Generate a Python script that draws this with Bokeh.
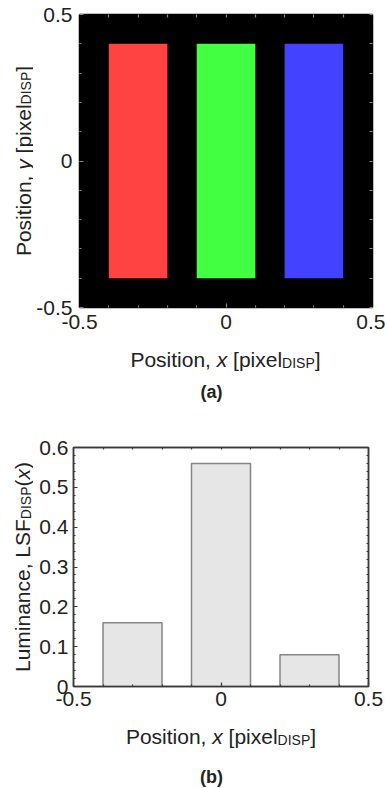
import math
from bokeh.plotting import figure
from bokeh.models import LinearAxis, FixedTicker, Range1d
from bokeh.core.properties import value
from bokeh.layouts import column, row
from bokeh.embed import file_html
from bokeh.resources import INLINE

# ---------------- data ----------------
# (a) display pixel layout: R, G, B sub-pixels
subpixel_names = ["R", "G", "B"]
subpixel_left = [-0.4, -0.1, 0.2]
subpixel_right = [-0.2, 0.1, 0.4]
subpixel_bottom = [-0.4, -0.4, -0.4]
subpixel_top = [0.4, 0.4, 0.4]

# (b) line spread function of the display pixel
lsf_x = [-0.3, 0.0, 0.3]
lsf_width = [0.2, 0.2, 0.2]
lsf_value = [0.16, 0.56, 0.08]

# ticks
pos_major = [-0.5, 0, 0.5]
pos_major_labels = ["-0.5", "0", "0.5"]
pos_minor = [-0.4, -0.3, -0.2, -0.1, 0.1, 0.2, 0.3, 0.4]
lum_major = [0, 0.1, 0.2, 0.3, 0.4, 0.5, 0.6]
lum_major_labels = ["0", "0.1", "0.2", "0.3", "0.4", "0.5", "0.6"]
lum_minor = [0.02, 0.04, 0.06, 0.08, 0.12, 0.14, 0.16, 0.18, 0.22, 0.24, 0.26, 0.28,
             0.32, 0.34, 0.36, 0.38, 0.42, 0.44, 0.46, 0.48, 0.52, 0.54, 0.56, 0.58]

# axis titles: (text, size, style, subscript drop)
title_x = [("Position, ", 21, "normal", 0), ("x ", 21, "italic", 0), ("[pixel", 21, "normal", 0),
           ("DISP", 14, "normal", 3), ("]", 21, "normal", 0)]
title_ya = [("Position, ", 21, "normal", 0), ("y ", 21, "italic", 0), ("[pixel", 21, "normal", 0),
            ("DISP", 14, "normal", 3), ("]", 21, "normal", 0)]
title_yb = [("Luminance, ", 21, "normal", 0), ("LSF", 21, "normal", 0), ("DISP", 14, "normal", 3),
            ("(", 21, "normal", 0), ("x", 21, "italic", 0), (")", 21, "normal", 0)]

# ---------------- styles ----------------
SUBPIXEL_COLORS = ["#ff4242", "#42ff42", "#4242ff"]
FONT = "Liberation Sans"
TXT = "#222222"
W = {' ': 278, ',': 278, '(': 333, ')': 333, '[': 278, ']': 278, 'P': 667, 'o': 556,
     's': 500, 'i': 222, 't': 278, 'n': 556, 'x': 500, 'y': 500, 'p': 556, 'e': 556,
     'l': 222, 'D': 722, 'I': 278, 'S': 667, 'L': 556, 'u': 556, 'm': 833, 'a': 556,
     'c': 500, 'F': 611}


def text_width(s, size):
    return sum(W.get(c, 556) for c in s) * size / 1000.0


def total_width(pieces):
    return sum(text_width(t, s) for t, s, _, _ in pieces)


def text_fig(w, h, xr, yr, left=0, right=0, top=0, bottom=0):
    """blank figure for titles; data coordinates are pixels"""
    f = figure(width=w, height=h, x_range=Range1d(*xr), y_range=Range1d(*yr), title=None,
               x_axis_type=None, y_axis_type=None, output_backend="svg",
               toolbar_location=None, min_border=0, min_border_left=left,
               min_border_right=right, min_border_top=top, min_border_bottom=bottom)
    f.grid.visible = False
    f.outline_line_color = None
    f.background_fill_color = "white"
    f.border_fill_color = "white"
    return f


def put(f, x, y, txt, size, style="normal", angle=0.0, align="left", baseline="alphabetic"):
    f.text(x=[x], y=[y], text=[txt], angle=angle, text_font=value(FONT),
           text_font_size=value(f"{size}px"), text_font_style=style, text_color=TXT,
           text_align=align, text_baseline=baseline)


def rich(f, pieces, x0, y0, vertical=False):
    pos = 0.0
    for txt, size, style, drop in pieces:
        if vertical:
            put(f, x0 + drop, y0 + pos, txt.strip(), size, style, math.pi / 2)
        else:
            put(f, x0 + pos, y0 - drop, txt.strip(), size, style)
        pos += text_width(txt, size)


def style_axes(p, xmaj, xlab, xmin, ymaj, ylab, ymin, tick_color, line_color, standoff):
    bottom = p.xaxis[0]
    left = p.yaxis[0]
    bottom.ticker = FixedTicker(ticks=xmaj, minor_ticks=xmin)
    bottom.major_label_overrides = dict(zip(xmaj, xlab))
    left.ticker = FixedTicker(ticks=ymaj, minor_ticks=ymin)
    left.major_label_overrides = dict(zip(ymaj, ylab))
    top = LinearAxis(ticker=FixedTicker(ticks=[], minor_ticks=xmaj + xmin))
    right = LinearAxis(ticker=FixedTicker(ticks=[], minor_ticks=ymaj + ymin))
    p.add_layout(top, "above")
    p.add_layout(right, "right")
    for ax in (bottom, left, top, right):
        ax.axis_line_color = line_color
        ax.axis_line_width = 1.5
        ax.major_tick_line_color = tick_color
        ax.minor_tick_line_color = tick_color
        ax.major_tick_line_width = 1.2
        ax.minor_tick_line_width = 1.2
        ax.major_tick_in = 4
        ax.major_tick_out = 0
        ax.minor_tick_in = 2
        ax.minor_tick_out = 0
        ax.major_label_text_font = FONT
        ax.major_label_text_color = TXT
        ax.major_label_text_font_size = "21px"
        ax.major_label_standoff = standoff
    return bottom, left, top, right


# ================= panel (a): page y 0..410, frame x 78..372, y 14..307 =================
YL = 33
pa = figure(width=385 - YL, height=338, output_backend="svg", toolbar_location=None,
            x_range=Range1d(-0.5, 0.5), y_range=Range1d(-0.5, 0.5),
            min_border_left=78 - YL, min_border_right=13, min_border_top=14,
            min_border_bottom=31)
pa.background_fill_color = "black"
pa.border_fill_color = "white"
pa.outline_line_color = "black"
pa.grid.visible = False
pa.quad(left=subpixel_left, right=subpixel_right, bottom=subpixel_bottom, top=subpixel_top,
        fill_color=SUBPIXEL_COLORS, line_color=None)
_, _, ta, ra = style_axes(pa, pos_major, pos_major_labels, pos_minor, pos_major,
                          pos_major_labels, pos_minor, "#8a8a8a", "black", 7)
ta.minor_tick_in = 3
ra.minor_tick_in = 3

# y title: data x = page x, data y = 307 - page y
ya_fig = text_fig(YL, 338, (0, YL), (0, 293), top=14, bottom=31)
rich(ya_fig, title_ya, 22.5, (307 - 160.5) - total_width(title_ya) / 2, vertical=True)

# x title: data x = page x, data y = 410 - page y
xa_fig = text_fig(385, 72, (78, 372), (0, 72), left=78, right=13)
rich(xa_fig, title_x, 225 - total_width(title_x) / 2, 410 - 359)
put(xa_fig, 211, 410 - 391, "(a)", 18, "bold", align="center", baseline="middle")

panel_a = column(row(ya_fig, pa), xa_fig)

# ================= panel (b): page y 410..788, frame x 73..368, y 447..686 =================
pb = figure(width=385 - YL, height=305, output_backend="svg", toolbar_location=None,
            x_range=Range1d(-0.5, 0.5), y_range=Range1d(0, 0.6),
            min_border_left=73 - YL, min_border_right=17, min_border_top=37,
            min_border_bottom=29)
pb.background_fill_color = "white"
pb.border_fill_color = "white"
pb.outline_line_color = "#3a3a3a"
pb.outline_line_width = 1.5
pb.grid.visible = False
pb.vbar(x=lsf_x, width=lsf_width, top=lsf_value, bottom=0,
        fill_color="#e6e6e6", line_color="#858585", line_width=1.5)
style_axes(pb, pos_major, pos_major_labels, pos_minor, lum_major, lum_major_labels, lum_minor,
           "#3a3a3a", "#3a3a3a", 5)

# y title: data x = page x, data y = 686 - page y
yb_fig = text_fig(YL, 305, (0, YL), (0, 239), top=37, bottom=29)
rich(yb_fig, title_yb, 22, (686 - 566.5) - total_width(title_yb) / 2, vertical=True)

# x title: data x = page x, data y = 788 - page y
xb_fig = text_fig(385, 73, (73, 368), (0, 73), left=73, right=17)
rich(xb_fig, title_x, 220.5 - total_width(title_x) / 2, 788 - 736)
put(xb_fig, 211, 788 - 776, "(b)", 18, "bold", align="center", baseline="middle")

panel_b = column(row(yb_fig, pb), xb_fig)

layout = column(panel_a, panel_b)
open("out.html", "w").write(file_html(layout, INLINE))
